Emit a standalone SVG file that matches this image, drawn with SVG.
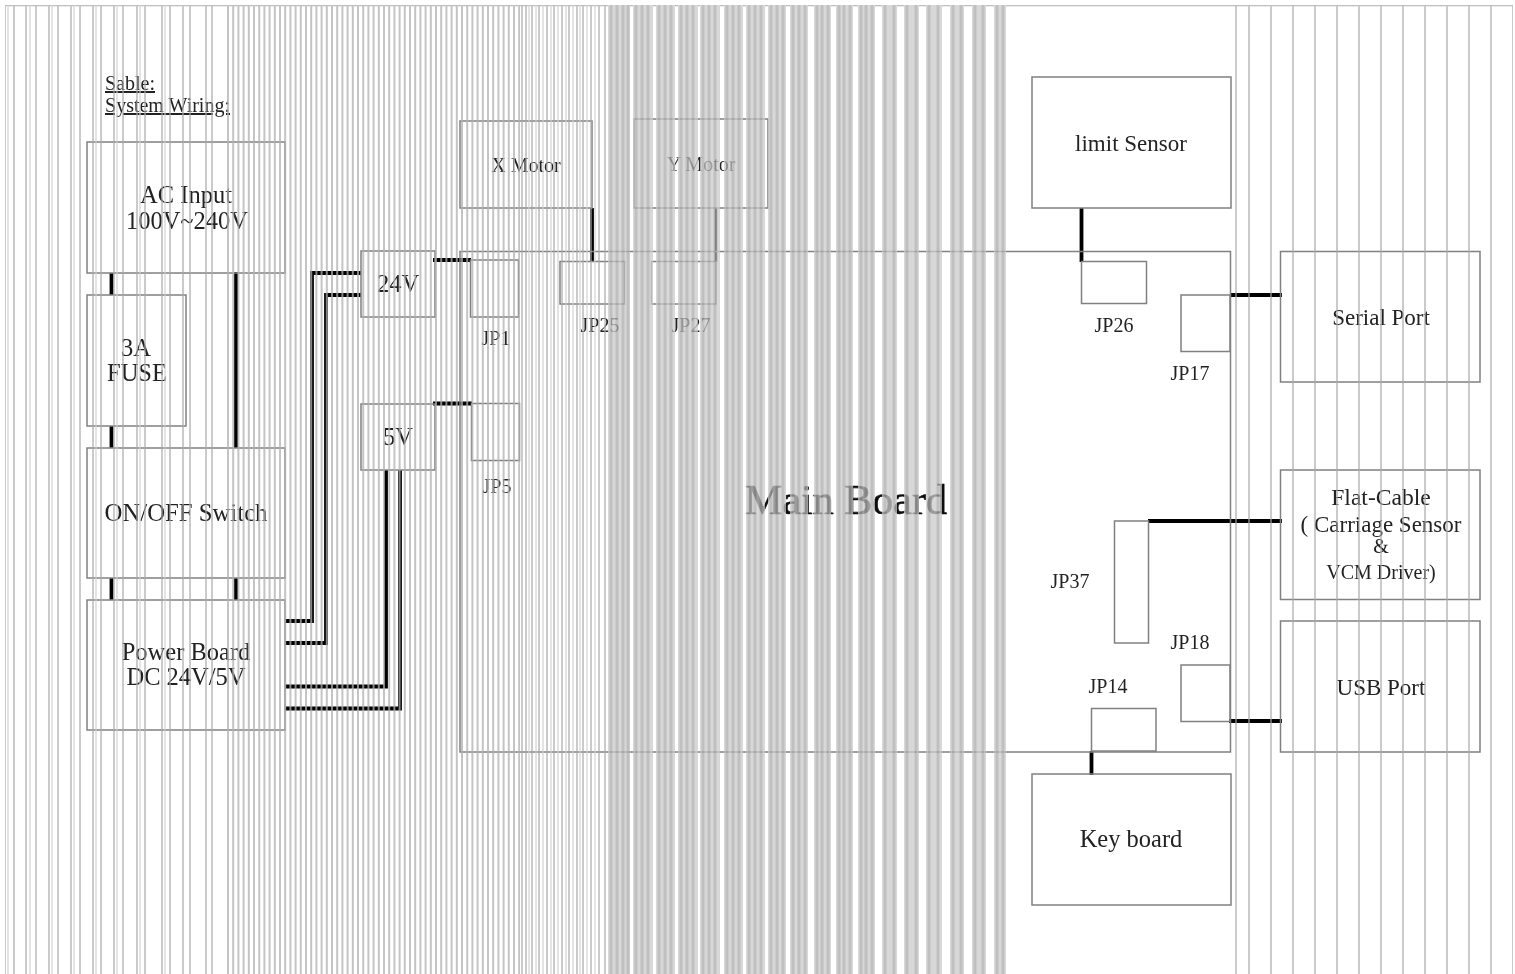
<svg xmlns="http://www.w3.org/2000/svg" width="1515" height="974" viewBox="0 0 1515 974">
<style>
.n{fill:none;stroke:#808080;stroke-width:1.5}
.c{fill:none;stroke:#000;stroke-width:3.8}
text{font-family:"Liberation Serif","Times New Roman",serif;fill:#222;text-anchor:middle}
.a{font-size:24.5px}.r{font-size:23px}.b{font-size:20px}.j{font-size:20px}
#stripes{opacity:.75}
.s{fill:none;stroke:#a8a8a8;stroke-width:1.6}
.l{fill:none;stroke:#d0d0d0;stroke-width:1.5}
.bar{fill:#cbcbcb}
.i{fill:none;stroke:#ababab;stroke-width:3}
</style>
<defs><filter id="soft" x="0" y="0" width="100%" height="100%"><feGaussianBlur stdDeviation="0.4"/></filter></defs>
<rect width="1515" height="974" fill="#fff"/>
<g filter="url(#soft)">
<g id="connectors">
<path class="c" d="M111.500 273V295M236 272V448M111.500 426V448M111.500 578V600M236 578V600"/>
<path class="c" d="M285 621H312V273H361M285 643H326V295H361M285 686.500H386V470M285 708.500H400V470"/>
<path class="c" d="M433 260H471M433 403.500H472M592 208V262M1081.500 208V262M1230 295H1282M1148 521H1282M1229 721H1282M1091.500 751V775"/>
<path class="c" style="stroke-width:2.500" d="M716 208V262"/>
</g>
<g id="title"><text x="105" y="90" style="text-anchor:start;font-size:20px;text-decoration:underline">Sable:</text><text x="105" y="112" style="text-anchor:start;font-size:20px;text-decoration:underline" textLength="125" lengthAdjust="spacingAndGlyphs">System Wiring:</text></g>
<g id="ac-input"><rect class="n" x="87" y="142" width="198" height="131"/><text class="a" x="186" y="203">AC Input</text><text class="a" x="187" y="229">100V~240V</text></g>
<g id="fuse"><rect class="n" x="87" y="295" width="99" height="131"/><text class="a" x="136" y="356">3A</text><text class="a" x="137" y="381">FUSE</text></g>
<g id="switch"><rect class="n" x="87" y="448" width="198" height="130"/><text class="a" x="186" y="521" textLength="163" lengthAdjust="spacingAndGlyphs">ON/OFF Switch</text></g>
<g id="power-board"><rect class="n" x="87" y="600" width="198" height="130"/><text class="a" x="186" y="660">Power Board</text><text class="a" x="186" y="685">DC 24V/5V</text></g>
<g id="v24"><rect class="n" x="361" y="251" width="74" height="66"/><text class="a" x="398" y="292">24V</text></g>
<g id="v5"><rect class="n" x="361" y="404" width="74" height="66"/><text class="a" x="398" y="445">5V</text></g>
<g id="main-board"><rect class="n" x="460" y="251.500" width="770.500" height="500.500"/><text x="846" y="514" style="font-size:42px;fill:#111;stroke:#111;stroke-width:.6">Main Board</text></g>
<g id="jp1"><rect class="n" x="470.500" y="260" width="48" height="57"/><text class="j" x="496" y="345">JP1</text></g>
<g id="jp5"><rect class="n" x="471.500" y="403.500" width="48" height="57"/><text class="j" x="497" y="493">JP5</text></g>
<g id="jp25"><rect class="n" x="560" y="261.500" width="64.500" height="42.500"/><text class="j" x="600" y="332">JP25</text></g>
<g id="jp27"><rect class="n" x="651.500" y="261.500" width="64.500" height="42.500"/><text class="j" x="691" y="332">JP27</text></g>
<g id="x-motor"><rect class="n" x="460" y="121" width="132" height="87"/><text class="j" x="526" y="172">X Motor</text></g>
<g id="y-motor"><rect class="n" x="634" y="119" width="134" height="89"/><text class="j" x="701" y="171">Y Motor</text></g>
<g id="limit-sensor"><rect class="n" x="1032" y="77" width="199" height="131"/><text class="r" x="1131" y="151">limit Sensor</text></g>
<g id="jp26"><rect class="n" x="1081.500" y="261.500" width="65" height="42"/><text class="j" x="1114" y="332">JP26</text></g>
<g id="jp17"><rect class="n" x="1181" y="295" width="49" height="56.500"/><text class="j" x="1190" y="380">JP17</text></g>
<g id="serial-port"><rect class="n" x="1280.500" y="251.500" width="199.500" height="130.500"/><text class="r" x="1381" y="325">Serial Port</text></g>
<g id="flat-cable"><rect class="n" x="1280.500" y="470" width="199.500" height="129.500"/><text class="a" x="1381" y="505" style="font-size:23.600px">Flat-Cable</text><text class="r" x="1381" y="532">( Carriage Sensor</text><text class="b" x="1381" y="553">&amp;</text><text class="b" x="1381" y="579">VCM Driver)</text></g>
<g id="usb-port"><rect class="n" x="1280.500" y="621" width="199.500" height="131"/><text class="r" x="1381" y="695">USB Port</text></g>
<g id="jp37"><rect class="n" x="1114.500" y="521" width="34" height="122"/><text class="j" x="1070" y="588">JP37</text></g>
<g id="jp18"><rect class="n" x="1181" y="665" width="49" height="56.500"/><text class="j" x="1190" y="649">JP18</text></g>
<g id="jp14"><rect class="n" x="1091.500" y="708.500" width="64.500" height="42.500"/><text class="j" x="1108" y="693">JP14</text></g>
<g id="key-board"><rect class="n" x="1032" y="774" width="199" height="131"/><text class="a" x="1131" y="847">Key board</text></g>
<g id="stripes">
<path class="s" style="stroke-width:1.500" d="M5 5.500H1513"/>
<path class="l" d="M8 5.500V974M30 5.500V974M52 5.500V974M74 5.500V974M96 5.500V974M117 5.500V974M140 5.500V974M165 5.500V974"/>
<path class="s" d="M5 5.500V974M14 5.500V974M26 5.500V974M36 5.500V974M49 5.500V974M58 5.500V974M71 5.500V974M80 5.500V974M93 5.500V974M101 5.500V974M114 5.500V974M123 5.500V974M137 5.500V974M145 5.500V974M162 5.500V974M170 5.500V974M183 5.500V974M190 5.500V974M206 5.500V974M212 5.500V974"/>
<path d="M227 490H520" fill="none" stroke="#b0b0b0" stroke-width="969" stroke-dasharray="2 3.200"/>
<path class="s" d="M522 5.500V974M526 5.500V974M532 5.500V974M539 5.500V974M547 5.500V974M554 5.500V974M562 5.500V974M569 5.500V974M577 5.500V974M583 5.500V974M591 5.500V974M599 5.500V974M605 5.500V974"/>
<path class="l" d="M529 5.500V974M536 5.500V974M543 5.500V974M551 5.500V974M558 5.500V974M566 5.500V974M573 5.500V974M580 5.500V974M587 5.500V974M595 5.500V974"/>
<g class="bar">
<rect x="608" y="5" width="22" height="969"/><rect x="633" y="5" width="20" height="969"/><rect x="656" y="5" width="19" height="969"/><rect x="678" y="5" width="20" height="969"/><rect x="700" y="5" width="20" height="969"/><rect x="724" y="5" width="19" height="969"/><rect x="746" y="5" width="19" height="969"/><rect x="768" y="5" width="18" height="969"/><rect x="790" y="5" width="18" height="969"/><rect x="814" y="5" width="17" height="969"/><rect x="836" y="5" width="17" height="969"/><rect x="858" y="5" width="17" height="969"/><rect x="882" y="5" width="15" height="969"/><rect x="904" y="5" width="15" height="969"/><rect x="926" y="5" width="16" height="969"/><rect x="950" y="5" width="14" height="969"/><rect x="972" y="5" width="14" height="969"/><rect x="994" y="5" width="12" height="969"/>
</g>
<path class="i" d="M611 5V974M617 5V974M623 5V974M628 5V974M636 5V974M642 5V974M648 5V974M659 5V974M665 5V974M671 5V974M681 5V974M687 5V974M693 5V974M703 5V974M709 5V974M715 5V974M727 5V974M733 5V974M739 5V974M749 5V974M755 5V974M761 5V974M771 5V974M777 5V974M783 5V974M793 5V974M799 5V974M805 5V974M817 5V974M822 5V974M828 5V974M839 5V974M844 5V974M850 5V974M861 5V974M866 5V974M872 5V974M885 5V974M894 5V974M907 5V974M916 5V974M929 5V974M938 5V974M953 5V974M961 5V974M975 5V974M983 5V974M997 5V974M1003 5V974"/>
<path class="s" d="M1236 5.500V974M1249 5.500V974M1271 5.500V974M1293 5.500V974M1315 5.500V974M1337 5.500V974M1359 5.500V974M1381 5.500V974M1403 5.500V974M1425 5.500V974M1447 5.500V974M1469 5.500V974M1491 5.500V974M1513 5.500V974"/>
</g>
</g>
</svg>
